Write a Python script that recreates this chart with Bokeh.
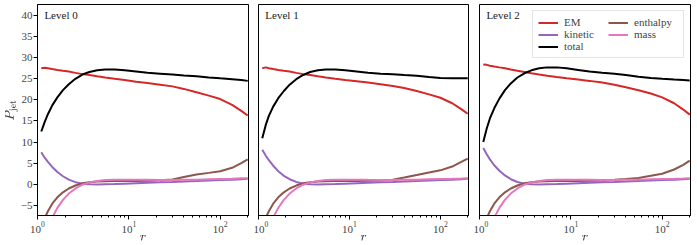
from bokeh.plotting import figure
from bokeh.layouts import row
from bokeh.models import Range1d, FixedTicker, Legend, LegendItem, Label
from bokeh.embed import file_html
from bokeh.resources import INLINE

# radius grid (shared)
r = [1.1, 1.2, 1.3, 1.45, 1.65, 1.9, 2.2, 2.6, 3.1, 3.7, 4.5, 5.5, 7, 9, 12, 16, 22, 30, 40, 55, 75, 100, 135, 170, 200]

levels = ["Level 0", "Level 1", "Level 2"]

em_0 = [27.5, 27.6, 27.5, 27.3, 27.1, 26.9, 26.7, 26.4, 26.1, 25.9, 25.6, 25.3, 25.0, 24.7, 24.3, 24.0, 23.6, 23.2, 22.6, 21.8, 21.0, 20.2, 18.8, 17.4, 16.3]
em_1 = [27.5, 27.7, 27.5, 27.3, 27.1, 26.9, 26.7, 26.4, 26.1, 25.9, 25.6, 25.3, 25.0, 24.7, 24.4, 24.1, 23.7, 23.3, 22.8, 22.1, 21.3, 20.5, 19.2, 17.8, 16.7]
em_2 = [28.4, 28.3, 28.1, 27.9, 27.7, 27.5, 27.2, 26.9, 26.6, 26.3, 26.0, 25.7, 25.4, 25.1, 24.8, 24.5, 24.1, 23.6, 23.0, 22.3, 21.5, 20.6, 19.2, 17.7, 16.5]

kin_0 = [7.6, 6.3, 5.3, 4.1, 2.9, 1.9, 1.1, 0.5, 0.15, 0.0, -0.05, 0.0, 0.05, 0.15, 0.25, 0.35, 0.45, 0.55, 0.65, 0.8, 0.9, 1.0, 1.1, 1.2, 1.3]
kin_1 = [8.2, 6.8, 5.7, 4.4, 3.1, 2.0, 1.2, 0.55, 0.15, 0.0, -0.05, 0.0, 0.05, 0.15, 0.25, 0.35, 0.45, 0.55, 0.65, 0.8, 0.9, 1.0, 1.1, 1.2, 1.3]
kin_2 = [8.6, 7.1, 5.9, 4.5, 3.2, 2.1, 1.2, 0.55, 0.15, 0.0, -0.05, 0.0, 0.05, 0.15, 0.25, 0.35, 0.45, 0.55, 0.65, 0.8, 0.9, 1.0, 1.1, 1.2, 1.3]

tot_0 = [12.5, 14.8, 16.6, 18.7, 20.6, 22.3, 23.7, 25.0, 26.0, 26.6, 27.0, 27.2, 27.2, 27.0, 26.7, 26.4, 26.2, 26.0, 25.8, 25.6, 25.3, 25.1, 24.9, 24.7, 24.5]
tot_1 = [10.9, 14.0, 16.2, 18.4, 20.4, 22.1, 23.6, 24.9, 25.9, 26.6, 27.0, 27.2, 27.2, 27.0, 26.7, 26.4, 26.2, 26.1, 25.9, 25.7, 25.4, 25.2, 25.1, 25.1, 25.1]
tot_2 = [10.0, 13.2, 15.6, 18.0, 20.3, 22.3, 23.9, 25.3, 26.3, 27.0, 27.5, 27.7, 27.7, 27.5, 27.1, 26.7, 26.4, 26.2, 25.9, 25.5, 25.2, 25.0, 24.8, 24.7, 24.6]

ent_0 = [-10.5, -8.0, -6.4, -4.6, -3.1, -1.9, -1.0, -0.3, 0.25, 0.5, 0.65, 0.7, 0.75, 0.75, 0.8, 0.85, 0.95, 1.15, 1.7, 2.3, 2.7, 3.1, 3.9, 5.0, 5.9]
ent_1 = [-10.5, -8.0, -6.4, -4.6, -3.1, -1.9, -1.0, -0.3, 0.25, 0.5, 0.65, 0.7, 0.75, 0.75, 0.8, 0.85, 0.95, 1.1, 1.6, 2.2, 2.8, 3.3, 4.2, 5.3, 6.1]
ent_2 = [-10.5, -8.0, -6.4, -4.6, -3.1, -1.9, -1.0, -0.3, 0.25, 0.5, 0.65, 0.7, 0.75, 0.75, 0.8, 0.85, 0.9, 1.05, 1.25, 1.5, 2.0, 2.5, 3.5, 4.6, 5.6]

mass_0 = [-17.0, -14.0, -11.5, -7.9, -5.6, -3.7, -2.2, -1.0, -0.1, 0.45, 0.8, 1.0, 1.1, 1.1, 1.1, 1.05, 1.0, 1.0, 1.05, 1.1, 1.2, 1.25, 1.3, 1.4, 1.45]
mass_1 = [-17.0, -14.0, -11.5, -7.9, -5.6, -3.7, -2.2, -1.0, -0.1, 0.45, 0.8, 1.0, 1.1, 1.1, 1.1, 1.05, 1.0, 1.0, 1.05, 1.1, 1.2, 1.25, 1.3, 1.35, 1.4]
mass_2 = [-17.0, -14.0, -11.5, -7.9, -5.6, -3.7, -2.2, -1.0, -0.1, 0.45, 0.8, 1.0, 1.1, 1.1, 1.1, 1.05, 1.0, 1.0, 1.05, 1.1, 1.2, 1.25, 1.3, 1.35, 1.4]

series_names = ["EM", "kinetic", "total", "enthalpy", "mass"]
series_colors = ["#d62728", "#9467bd", "#000000", "#8c564b", "#e377c2"]
data = [
    [em_0, kin_0, tot_0, ent_0, mass_0],
    [em_1, kin_1, tot_1, ent_1, mass_1],
    [em_2, kin_2, tot_2, ent_2, mass_2],
]
y_ticks = [-5, 0, 5, 10, 15, 20, 25, 30, 35, 40]

FONT = "Liberation Serif"
FS = "11px"

x_range = Range1d(1, 204)
y_range = Range1d(-7.4, 42.6)

dims = [(211, 37, 5), (210, 5, 5), (211, 6, 2)]
figs = []
for i in range(3):
    fw, lb, rb = dims[i]
    p = figure(frame_width=fw, frame_height=211, x_axis_type="log", x_range=x_range, y_range=y_range,
               output_backend="svg", toolbar_location=None,
               min_border_left=lb, min_border_right=rb, min_border_top=4, min_border_bottom=20)
    p.xgrid.visible = False
    p.ygrid.visible = False
    p.outline_line_color = "black"
    p.outline_line_width = 1
    p.outline_line_alpha = 1
    p.background_fill_color = "white"
    p.border_fill_color = "white"

    xa = p.xaxis[0]
    xa.axis_label = "$$r$$"
    xa.axis_label_standoff = -1
    xa.axis_label_text_font_size = FS
    xa.major_label_text_font = FONT
    xa.major_label_text_font_size = FS
    xa.major_label_standoff = 2
    xa.major_tick_in = 0
    xa.major_tick_out = 4
    xa.minor_tick_in = 0
    xa.minor_tick_out = 2
    xa.axis_line_color = "black"
    xa.major_tick_line_color = "black"
    xa.minor_tick_line_color = "black"

    ya = p.yaxis[0]
    if i == 0:
        ya.ticker = FixedTicker(ticks=y_ticks)
        ya.axis_label = "$$P_{\\rm jet}$$"
        ya.axis_label_text_font_size = FS
        ya.axis_label_standoff = 0
        ya.major_label_text_font = FONT
        ya.major_label_text_font_size = FS
        ya.major_label_standoff = 1
        ya.major_label_overrides = {-5: "\u22125"}
        ya.major_tick_in = 0
        ya.major_tick_out = 4
        ya.minor_tick_line_color = None
        ya.axis_line_color = "black"
        ya.major_tick_line_color = "black"
    else:
        ya.visible = False

    renderers = []
    for name, color, ys in zip(series_names, series_colors, data[i]):
        rr = p.line(r, ys, line_color=color, line_width=2)
        renderers.append((name, rr))

    p.add_layout(Label(x=1.19, y=40, text=levels[i], text_baseline="middle",
                       text_font=FONT, text_font_size=FS, text_color="#222222"))

    if i == 2:
        legend = Legend(items=[LegendItem(label=n, renderers=[rr]) for n, rr in renderers],
                        location="top_right", ncols=2, margin=6, padding=5, spacing=0,
                        label_text_font=FONT, label_text_font_size=FS,
                        label_height=11, glyph_height=11, glyph_width=20, label_standoff=6,
                        label_width=44,
                        border_line_color="#cccccc", border_line_width=1,
                        background_fill_alpha=0.85)
        p.add_layout(legend)
    figs.append(p)

layout = row(*figs)
open("out.html", "w").write(file_html(layout, INLINE))
